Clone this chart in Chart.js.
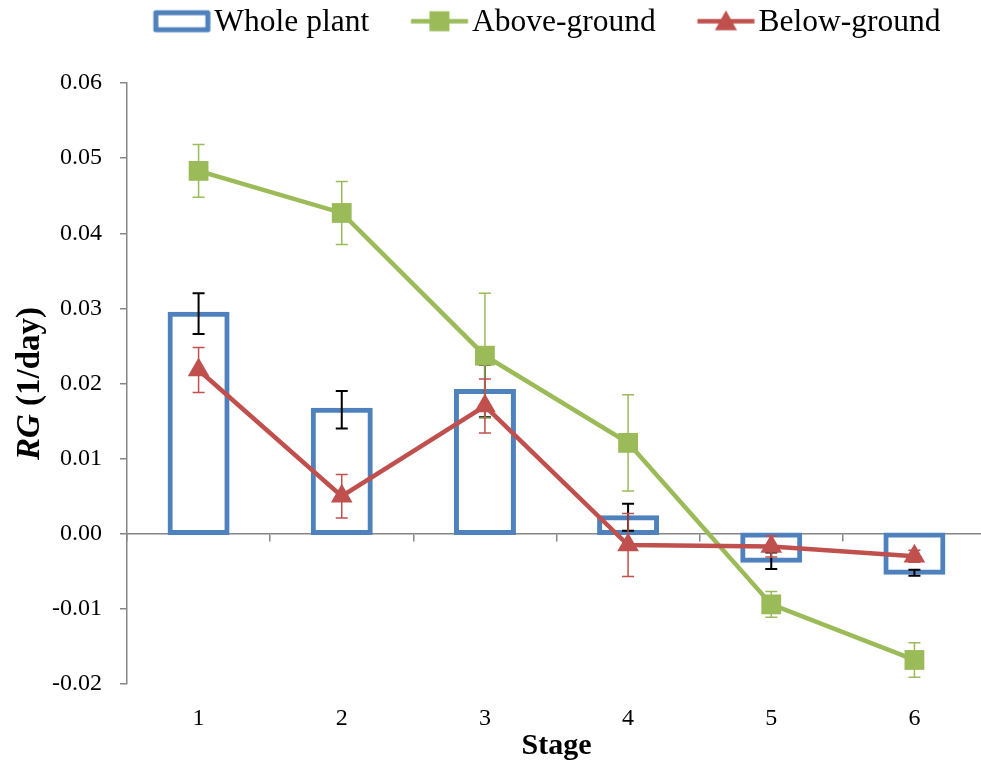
<!DOCTYPE html>
<html>
<head>
<meta charset="utf-8">
<title>RG by stage</title>
<script src="https://cdn.jsdelivr.net/npm/chart.js@4.4.1/dist/chart.umd.min.js"></script>
<style>
  html, body { margin: 0; padding: 0; background: #fff; overflow: hidden; }
  #wrap { width: 1000px; height: 775px; }
</style>
</head>
<body>
<div id="wrap"><canvas id="rg" width="1000" height="775"></canvas></div>
<script>
// Relative growth per stage, mean and error
const stages = ['1', '2', '3', '4', '5', '6'];
const wholePlant = [0.0293, 0.0165, 0.0190, 0.0022, -0.0036, -0.0052];
const wholeErr = [0.0027, 0.0025, 0.0035, 0.0018, 0.0011, 0.0004];
const aboveGround = [0.0483, 0.0427, 0.0237, 0.0121, -0.0094, -0.0168];
const aboveErr = [0.0035, 0.0042, 0.0083, 0.0064, 0.0017, 0.0023];
const belowGround = [0.0218, 0.0050, 0.0170, -0.0015, -0.0017, -0.0030];
const belowErr = [0.0030, 0.0029, 0.0036, 0.0042, 0.0014, 0.0008];
const yTickValues = [-0.02, -0.01, 0, 0.01, 0.02, 0.03, 0.04, 0.05, 0.06];
const yTickLabels = ['-0.02', '-0.01', '0.00', '0.01', '0.02', '0.03', '0.04', '0.05', '0.06'];

const BLUE = '#4F81BD';
const GREEN = '#9BBB59';
const RED = '#C0504D';
const AXIS = '#868686';
const SERIF = "'Liberation Serif', 'Times New Roman', serif";

// legend glyphs: outlined box, or a short line with its marker
function glyph(kind, color) {
  const c = document.createElement('canvas');
  c.width = 110;
  c.height = 32;
  const g = c.getContext('2d');
  const x0 = 49.75, x1 = 106.75, cy = 14.5;
  g.strokeStyle = color;
  g.fillStyle = color;
  if (kind === 'box') {
    g.lineWidth = 5;
    g.lineJoin = 'round';
    g.strokeRect(x0 + 2.5, cy - 8.5, 52, 17);
  } else {
    g.lineWidth = 4.5;
    g.beginPath();
    g.moveTo(x0, cy);
    g.lineTo(x1, cy);
    g.stroke();
    const mx = (x0 + x1) / 2;
    if (kind === 'rect') {
      g.fillRect(mx - 10, cy - 10, 20, 20);
    } else {
      g.beginPath();
      g.moveTo(mx, cy - 11);
      g.lineTo(mx + 11, cy + 9);
      g.lineTo(mx - 11, cy + 9);
      g.closePath();
      g.fill();
    }
  }
  return c;
}

const legendItems = [
  { text: 'Whole plant', pointStyle: glyph('box', BLUE), datasetIndex: 0 },
  { text: 'Above-ground', pointStyle: glyph('rect', GREEN), datasetIndex: 1 },
  { text: 'Below-ground', pointStyle: glyph('triangle', RED), datasetIndex: 2 }
].map(it => ({ ...it, fontColor: '#000', fillStyle: '#fff', strokeStyle: '#fff', lineWidth: 0, hidden: false }));

// vertical error bars with caps, drawn right after each dataset
const errorBars = {
  id: 'errorBars',
  afterDatasetDraw(chart, args) {
    const ds = chart.data.datasets[args.index];
    if (!ds.errors) return;
    const y = chart.scales.y;
    const ctx = chart.ctx;
    ctx.save();
    ctx.strokeStyle = ds.errorColor;
    ctx.lineWidth = ds.errorWidth;
    args.meta.data.forEach((el, i) => {
      const v = ds.data[i], e = ds.errors[i];
      const top = y.getPixelForValue(v + e);
      const bot = y.getPixelForValue(v - e);
      const x = el.x;
      ctx.beginPath();
      ctx.moveTo(x, top); ctx.lineTo(x, bot);
      ctx.moveTo(x - 6, top); ctx.lineTo(x + 6, top);
      ctx.moveTo(x - 6, bot); ctx.lineTo(x + 6, bot);
      ctx.stroke();
    });
    ctx.restore();
  }
};

// y title with italic "RG"
const yTitle = {
  id: 'yTitle',
  afterDraw(chart) {
    const { ctx, chartArea } = chart;
    const a = 'RG', b = ' (1/day)';
    ctx.save();
    ctx.translate(30, (chartArea.top + chartArea.bottom) / 2);
    ctx.rotate(-Math.PI / 2);
    ctx.textBaseline = 'middle';
    ctx.textAlign = 'left';
    ctx.fillStyle = '#000';
    ctx.font = 'italic bold 33px ' + SERIF;
    const wa = ctx.measureText(a).width;
    ctx.font = 'bold 33px ' + SERIF;
    const wb = ctx.measureText(b).width;
    const x = -(wa + wb) / 2;
    ctx.font = 'italic bold 33px ' + SERIF;
    ctx.fillText(a, x, 0);
    ctx.font = 'bold 33px ' + SERIF;
    ctx.fillText(b, x + wa, 0);
    ctx.restore();
  }
};

// legend takes a fixed band on top and sits a bit right of centre
const legendLayout = {
  id: 'legendLayout',
  beforeInit(chart) {
    const fit = chart.legend.fit;
    chart.legend.fit = function () {
      fit.call(this);
      this.height = 83;
    };
  },
  afterLayout(chart) {
    chart.legend.left += 64;
  }
};

new Chart(document.getElementById('rg'), {
  type: 'bar',
  data: {
    labels: stages,
    datasets: [
      {
        type: 'bar',
        label: 'Whole plant',
        data: wholePlant,
        errors: wholeErr,
        errorColor: '#000',
        errorWidth: 2,
        backgroundColor: 'rgba(255,255,255,0)',
        borderColor: BLUE,
        borderWidth: 1,
        inflateAmount: 2,
        borderSkipped: false,
        barThickness: 58,
        order: 3,
        xAxisID: 'x',
        yAxisID: 'y'
      },
      {
        type: 'line',
        label: 'Above-ground',
        data: aboveGround,
        errors: aboveErr,
        errorColor: GREEN,
        errorWidth: 1.5,
        borderColor: GREEN,
        backgroundColor: GREEN,
        borderWidth: 4.5,
        pointStyle: 'rect',
        pointRadius: 14,
        pointBorderWidth: 0,
        tension: 0,
        order: 2,
        xAxisID: 'x',
        yAxisID: 'y'
      },
      {
        type: 'line',
        label: 'Below-ground',
        data: belowGround,
        errors: belowErr,
        errorColor: RED,
        errorWidth: 1.5,
        borderColor: RED,
        backgroundColor: RED,
        borderWidth: 4.5,
        pointStyle: 'triangle',
        pointRadius: 12.5,
        pointBorderWidth: 0,
        tension: 0,
        order: 1,
        xAxisID: 'x',
        yAxisID: 'y'
      }
    ]
  },
  options: {
    responsive: false,
    animation: false,
    layout: { padding: { top: 0, right: 5, bottom: 0, left: 0 } },
    plugins: {
      tooltip: { enabled: false },
      legend: {
        position: 'top',
        labels: {
          font: { family: SERIF, size: 31.5 },
          color: '#000',
          usePointStyle: true,
          pointStyleWidth: 80,
          padding: 7,
          generateLabels: () => legendItems
        }
      }
    },
    scales: {
      x: {
        type: 'category',
        position: 'bottom',
        offset: true,
        grid: { display: false, drawTicks: false, offset: true },
        border: { display: false },
        ticks: {
          font: { family: SERIF, size: 24 },
          color: '#000',
          padding: 20,
          maxRotation: 0,
          autoSkip: false
        },
        title: {
          display: true,
          text: 'Stage',
          font: { family: SERIF, size: 30, weight: 'bold' },
          color: '#000',
          padding: { top: 0, bottom: 11 }
        },
        afterFit(s) { s.height = 91; }
      },
      x2: {
        type: 'category',
        position: { y: 0 },
        offset: true,
        grid: { offset: true, drawOnChartArea: false, drawTicks: true, tickLength: 7, color: AXIS, lineWidth: 1.5 },
        border: { color: AXIS, width: 1.5 },
        ticks: { display: false }
      },
      y: {
        min: -0.02,
        max: 0.06,
        afterBuildTicks(s) { s.ticks = yTickValues.map(v => ({ value: v })); },
        grid: { drawOnChartArea: false, tickLength: 7, color: AXIS, lineWidth: 1.5 },
        border: { color: AXIS, width: 1.5 },
        ticks: {
          font: { family: SERIF, size: 24 },
          color: '#000',
          padding: 18,
          callback: (v, i) => yTickLabels[i]
        },
        afterFit(s) { s.width = 127; }
      }
    }
  },
  plugins: [errorBars, yTitle, legendLayout]
});
</script>
</body>
</html>
